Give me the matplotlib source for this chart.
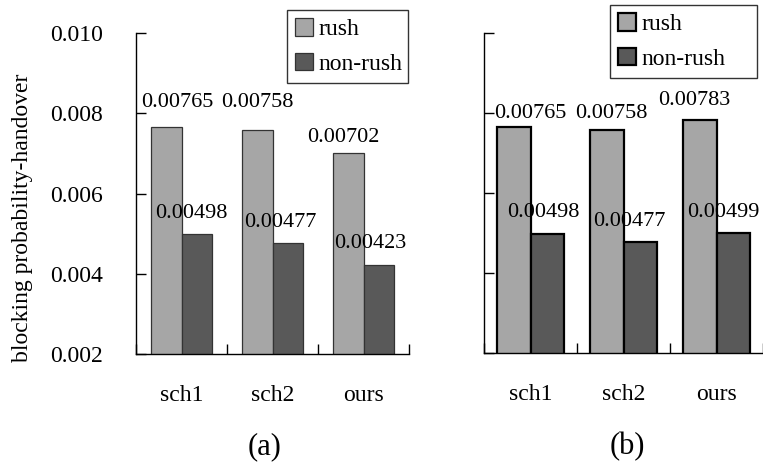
import matplotlib
matplotlib.use("Agg")
import matplotlib.pyplot as plt
import numpy as np

categories = ["sch1", "sch2", "ours"]
rush_a = [0.00765, 0.00758, 0.00702]
nonrush_a = [0.00498, 0.00477, 0.00423]
rush_b = [0.00765, 0.00758, 0.00783]
nonrush_b = [0.00498, 0.00477, 0.00499]
yticks = [0.002, 0.004, 0.006, 0.008, 0.010]
ytick_labels = ["0.002", "0.004", "0.006", "0.008", "0.010"]
series_names = ["rush", "non-rush"]
panel_labels = ["(a)", "(b)"]

plt.rcParams["font.family"] = ["Liberation Serif", "DejaVu Serif"]

W, H = 763, 462
fig = plt.figure(figsize=(W / 100, H / 100), dpi=100)

def px_axes(x0, y0, x1, y1):
    return fig.add_axes([x0 / W, 1 - y1 / H, (x1 - x0) / W, (y1 - y0) / H])

ax_a = px_axes(136, 33, 409, 354)
ax_b = px_axes(484, 33, 763, 353)

light = "#a6a6a6"
dark = "#595959"

def draw(ax, rush, nonrush, width, edge, lw, show_ylabels, rush_dx, rush_dy, non_dx, non_dy):
    x = np.arange(len(categories))
    b1 = ax.bar(x - width / 2, rush, width, color=light, edgecolor=edge, linewidth=lw, label=series_names[0], zorder=2)
    b2 = ax.bar(x + width / 2, nonrush, width, color=dark, edgecolor=edge, linewidth=lw, label=series_names[1], zorder=2)
    ax.set_xlim(-0.5, len(categories) - 0.5)
    ax.set_ylim(0.002, 0.010)
    ax.set_yticks(yticks)
    if show_ylabels:
        ax.set_yticklabels(ytick_labels, fontsize=17)
    else:
        ax.set_yticklabels([])
    ax.tick_params(axis="y", direction="in", length=7, width=1, pad=24)
    ax.set_xticks(np.arange(len(categories) + 1) - 0.5)
    ax.set_xticklabels([])
    ax.tick_params(axis="x", which="major", direction="in", length=7, width=1)
    ax.set_xticks(x, minor=True)
    ax.set_xticklabels(categories, minor=True, fontsize=17)
    ax.tick_params(axis="x", which="minor", length=0, pad=22)
    for s in ["top", "right"]:
        ax.spines[s].set_visible(False)
    for s in ["left", "bottom"]:
        ax.spines[s].set_linewidth(1)
    ax.patch.set_visible(False)
    for i, (r, n) in enumerate(zip(rush, nonrush)):
        ax.annotate(f"{r:.5f}", (x[i] - width / 2, r), xytext=(rush_dx[i], rush_dy[i]),
                    textcoords="offset points", ha="center", va="center", fontsize=16,
                    annotation_clip=False)
        ax.annotate(f"{n:.5f}", (x[i] + width / 2, n), xytext=(non_dx[i], non_dy[i]),
                    textcoords="offset points", ha="center", va="center", fontsize=16,
                    annotation_clip=False)
    return b1, b2

draw(ax_a, rush_a, nonrush_a, 0.33, "#333333", 0.9, True,
     [8, 0, -4], [18, 20, 11], [-4, -5, -6], [15, 15, 15])
ax_a.set_ylabel("blocking probability-handover", fontsize=17)
ax_a.yaxis.set_label_coords((33 - 136) / 273, (354 - 218) / 321)

draw(ax_b, rush_b, nonrush_b, 0.36, "black", 1.6, False,
     [12, 3, -4], [10, 12, 14], [-3, -8, -7], [15, 15, 15])

leg_kw = dict(fontsize=17, handlelength=0.75, handleheight=0.75, handletextpad=0.25,
              labelspacing=0.55, borderpad=0.35, borderaxespad=0, fancybox=False,
              framealpha=1, edgecolor="#333333", bbox_transform=fig.transFigure,
              loc="upper left", mode="expand")
la = ax_a.legend(bbox_to_anchor=(287 / W, 1 - 81 / H, 121 / W, 71 / H), **leg_kw)
lb = ax_b.legend(bbox_to_anchor=(610 / W, 1 - 78 / H, 147 / W, 73 / H), **leg_kw)
for lg in (la, lb):
    lg.get_frame().set_linewidth(1)

fig.text(265 / W, 1 - 447 / H, panel_labels[0], ha="center", va="center", fontsize=22)
fig.text(627 / W, 1 - 447 / H, panel_labels[1], ha="center", va="center", fontsize=22)

fig.savefig("out.png", dpi=100)
